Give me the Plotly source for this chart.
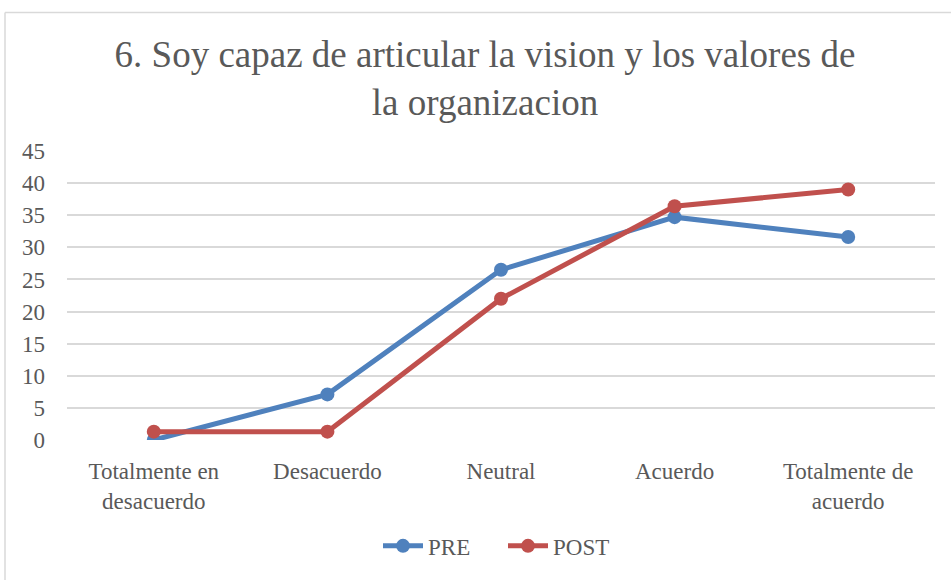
import plotly.graph_objects as go

categories = ["Totalmente en<br>desacuerdo", "Desacuerdo", "Neutral", "Acuerdo", "Totalmente de<br>acuerdo"]
pre_values = [0.0, 7.1, 26.5, 34.7, 31.6]
post_values = [1.3, 1.3, 22.0, 36.4, 39.0]
y_ticks = [0, 5, 10, 15, 20, 25, 30, 35, 40, 45]

W, H = 951, 580
L, R, T, B = 67, 16, 151, 137
pw, ph = W - L - R, H - T - B

def px_x(p):
    return (p - L) / pw

def px_y(p):
    return (H - B - p) / ph

FONT = "Liberation Serif"
GREY = "#595959"

fig = go.Figure()
fig.add_trace(go.Scatter(x=categories, y=pre_values, name="PRE", mode="lines+markers",
                         line=dict(color="#4F81BD", width=5), marker=dict(size=14, color="#4F81BD")))
fig.add_trace(go.Scatter(x=categories, y=post_values, name="POST", mode="lines+markers",
                         line=dict(color="#C0504D", width=5), marker=dict(size=14, color="#C0504D")))

fig.update_layout(
    width=W, height=H,
    margin=dict(l=L, r=R, t=T, b=B),
    paper_bgcolor="white", plot_bgcolor="white",
    font=dict(family=FONT, color=GREY, size=23),
    title=dict(text="6. Soy capaz de articular la vision y los valores de<br>la organizacion",
               x=485 / W, xanchor="center", y=1 - 67 / H, yanchor="middle",
               font=dict(family=FONT, size=37, color=GREY)),
    xaxis=dict(type="category", range=[-0.5, 4.5], showgrid=False, zeroline=False,
               showline=False, ticks="", tickfont=dict(family=FONT, size=23, color=GREY),
               ticklabelstandoff=15),
    yaxis=dict(range=[0, 45], tickvals=y_ticks, showgrid=True, gridcolor="#D9D9D9", gridwidth=1.5,
               zeroline=False, showline=False, ticks="", tickfont=dict(family=FONT, size=23, color=GREY),
               ticklabelstandoff=21),
    showlegend=True,
    legend=dict(orientation="h", x=px_x(378), xanchor="left", y=px_y(550), yanchor="middle",
                font=dict(family=FONT, size=23, color=GREY), itemwidth=40,
                entrywidth=70, entrywidthmode="pixels"),
    shapes=[
        dict(type="line", xref="paper", yref="paper", x0=px_x(5), x1=px_x(5), y0=px_y(600), y1=px_y(11),
             line=dict(color="#D9D9D9", width=1.5)),
        dict(type="line", xref="paper", yref="paper", x0=px_x(5), x1=px_x(960), y0=px_y(11), y1=px_y(11),
             line=dict(color="#D9D9D9", width=1.5)),
    ],
)

fig.write_html("out.html", config={"displayModeBar": False},
               post_script="document.body.style.margin='0';")
